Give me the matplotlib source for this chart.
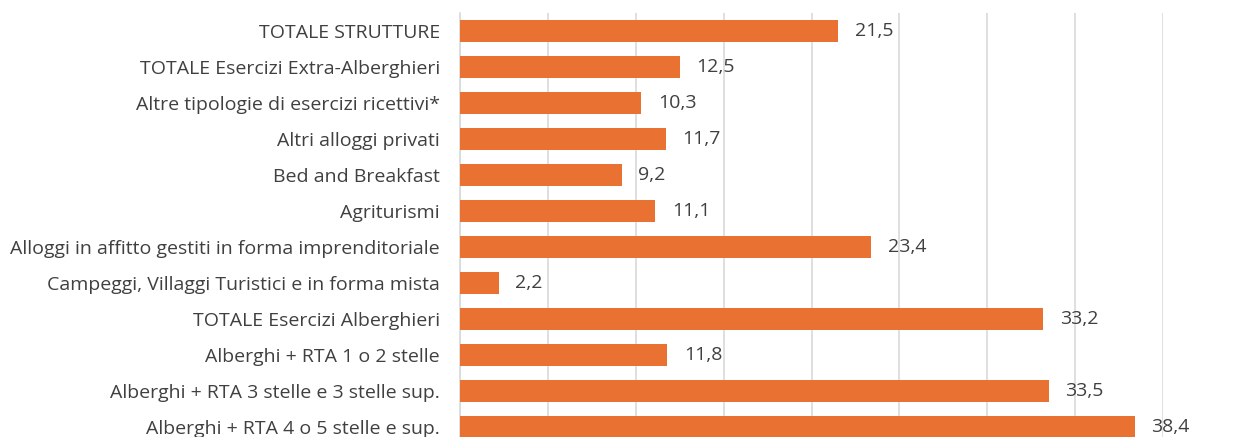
import matplotlib
matplotlib.use("Agg")
import matplotlib.pyplot as plt

# categories top -> bottom as in the reference
categories = [
    "TOTALE STRUTTURE",
    "TOTALE Esercizi Extra-Alberghieri",
    "Altre tipologie di esercizi ricettivi*",
    "Altri alloggi privati",
    "Bed and Breakfast",
    "Agriturismi",
    "Alloggi in affitto gestiti in forma imprenditoriale",
    "Campeggi, Villaggi Turistici e in forma mista",
    "TOTALE Esercizi Alberghieri",
    "Alberghi + RTA 1 o 2 stelle",
    "Alberghi + RTA 3 stelle e 3 stelle sup.",
    "Alberghi + RTA 4 o 5 stelle e sup.",
]
values = [21.5, 12.5, 10.3, 11.7, 9.2, 11.1, 23.4, 2.2, 33.2, 11.8, 33.5, 38.4]

plt.rcParams['font.family'] = ['Open Sans', 'DejaVu Sans']
txt_col = "#404040"

fig = plt.figure(figsize=(12.47, 4.37), dpi=100)
ax = fig.add_axes([460/1247, 1 - 445/437, (1163-460)/1247, (445-13)/437])

y = list(range(len(categories)))
ax.barh(y, values, height=0.61, color="#E97132", zorder=3)
for yi, v in zip(y, values):
    ax.annotate(("%.1f" % v).replace(".", ","), (v, yi), xytext=(12, 0),
                textcoords="offset points", va="center", ha="left",
                fontsize=14, color=txt_col)

ax.set_ylim(len(categories) - 0.5, -0.5)
ax.set_xlim(0, 40)
ax.set_xticks(range(0, 41, 5))
ax.set_xticklabels([])
ax.tick_params(axis="x", length=0)
ax.set_yticks(y)
ax.set_yticklabels(categories, fontsize=14, color=txt_col)
ax.tick_params(axis="y", length=0, pad=14.4)
ax.grid(axis="x", color="#d9d9d9", linewidth=1.2, zorder=0)
for s in ["top", "right", "bottom"]:
    ax.spines[s].set_visible(False)
ax.spines["left"].set_color("#d9d9d9")
ax.spines["left"].set_linewidth(1.2)

fig.savefig("out.png", dpi=100)
